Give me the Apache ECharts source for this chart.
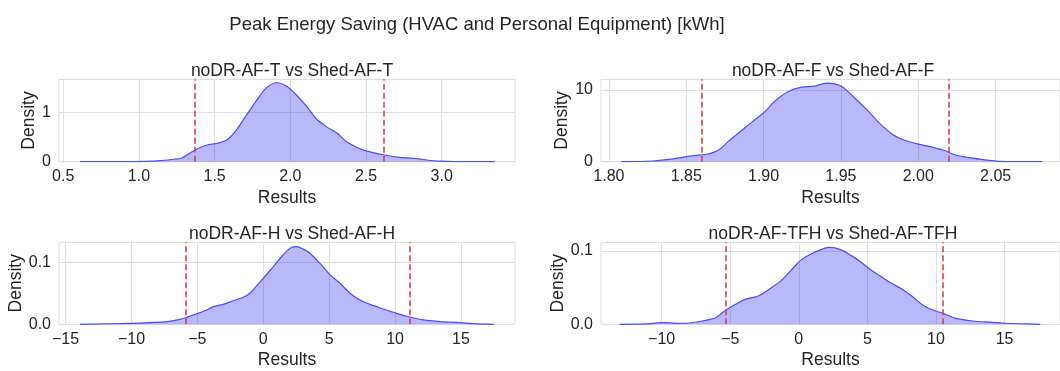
<!DOCTYPE html>
<html>
<head>
<meta charset="utf-8">
<script src="https://cdn.jsdelivr.net/npm/echarts@6/dist/echarts.min.js"></script>
<style>
html,body{margin:0;padding:0;background:#fff;}
#c{width:1060px;height:371px;}
</style>
</head>
<body>
<div id="c"></div>
<script>
// ---- Data ----
const suptitle = "Peak Energy Saving (HVAC and Personal Equipment) [kWh]";
const panelTitles = ["noDR-AF-T vs Shed-AF-T", "noDR-AF-F vs Shed-AF-F", "noDR-AF-H vs Shed-AF-H", "noDR-AF-TFH vs Shed-AF-TFH"];

const tX = [0.61, 0.9, 1.05, 1.14, 1.23, 1.28, 1.37, 1.45, 1.51, 1.58, 1.645, 1.71, 1.78, 1.84, 1.91, 1.976, 2.04, 2.11, 2.17, 2.24, 2.31, 2.37, 2.44, 2.50, 2.62, 2.72, 2.81, 2.90, 2.99, 3.1, 3.35];
const tY = [0, 0.001, 0.005, 0.02, 0.05, 0.07, 0.24, 0.34, 0.37, 0.44, 0.65, 0.95, 1.26, 1.50, 1.61, 1.54, 1.36, 1.12, 0.88, 0.71, 0.58, 0.41, 0.29, 0.22, 0.136, 0.09, 0.07, 0.035, 0.01, 0.003, 0];
const tTicks = [0.5, 1.0, 1.5, 2.0, 2.5, 3.0];
const tLines = [1.368, 2.618];

const fX = [1.808, 1.828, 1.839, 1.85, 1.858, 1.864, 1.871, 1.877, 1.886, 1.894, 1.901, 1.907, 1.916, 1.924, 1.933, 1.941, 1.95, 1.958, 1.967, 1.975, 1.984, 1.992, 2.001, 2.0095, 2.016, 2.024, 2.033, 2.044, 2.052, 2.065, 2.08];
const fY = [0, 0.1, 0.33, 0.7, 0.93, 1.07, 1.63, 2.8, 4.4, 5.8, 7.0, 8.4, 9.8, 10.37, 10.56, 10.98, 10.56, 9.07, 7.2, 5.35, 3.72, 2.93, 2.42, 2.0, 1.63, 0.93, 0.56, 0.23, 0.05, 0.01, 0];
const fTicks = [1.80, 1.85, 1.90, 1.95, 2.00, 2.05];
const fLines = [1.864, 2.0163];

const hX = [-13.9, -9.87, -8.6, -7.34, -6.32, -5.87, -5.06, -4.3, -3.79, -3.04, -2.28, -1.52, -1.01, -0.51, 0, 0.76, 1.52, 2.15, 2.53, 3.04, 3.54, 4.3, 5.06, 5.82, 6.58, 7.34, 8.1, 9.1, 10.12, 11.13, 12.14, 13.4, 14.93, 15.9, 17.5];
const hY = [0, 0.0016, 0.0027, 0.0043, 0.008, 0.0108, 0.0167, 0.023, 0.0285, 0.032, 0.038, 0.0435, 0.05, 0.062, 0.074, 0.093, 0.112, 0.124, 0.125, 0.121, 0.1145, 0.098, 0.080, 0.066, 0.05, 0.039, 0.032, 0.0247, 0.0177, 0.0118, 0.007, 0.0043, 0.0027, 0.001, 0];
const hTicks = [-15, -10, -5, 0, 5, 10, 15];
const hLines = [-5.87, 11.13];

const aX = [-13.05, -11.1, -10.05, -8.97, -8.0, -7.04, -6.08, -5.31, -4.64, -3.92, -2.96, -2.24, -1.27, -0.31, 0.17, 0.89, 1.61, 2.21, 3.05, 3.77, 4.5, 5.2, 5.94, 6.66, 7.62, 8.34, 9.06, 9.78, 10.5, 11.47, 12.67, 14.1, 15.07, 16.75, 17.6];
const aY = [0, 0.0005, 0.0023, 0.0014, 0.0018, 0.0045, 0.009, 0.0195, 0.027, 0.034, 0.0386, 0.047, 0.06, 0.079, 0.088, 0.096, 0.102, 0.105, 0.102, 0.0945, 0.0855, 0.075, 0.066, 0.057, 0.047, 0.037, 0.026, 0.0195, 0.015, 0.008, 0.0045, 0.0027, 0.0014, 0.0005, 0];
const aTicks = [-10, -5, 0, 5, 10, 15];
const aLines = [-5.31, 10.5];

// ---- Layout / styles ----
const FONT = "'Liberation Sans', Arial, sans-serif";
const TXT = "#262626";
const GRIDC = "#dedee3";

const panels = [
  {xs: tX, ys: tY, ticks: tTicks, lines: tLines, grid: {left: 59, right: 545, top: 79.3, bottom: 209.3},
   xmin: 0.472, xmax: 3.484, xdec: 1, ymax: 1.68, yint: 1, ydec: 0, nameGap: 19, title: [287, 57]},
  {xs: fX, ys: fY, ticks: fTicks, lines: fLines, grid: {left: 601, right: -5, top: 79.3, bottom: 209.3},
   xmin: 1.7949, xmax: 2.0916, xdec: 2, ymax: 11.5, yint: 10, ydec: 0, nameGap: 30, title: [828, 57]},
  {xs: hX, ys: hY, ticks: hTicks, lines: hLines, grid: {left: 59, right: 545, top: 242.3, bottom: 46.7},
   xmin: -15.5, xmax: 19.1, xdec: 0, ymax: 0.132, yint: 0.1, ydec: 1, nameGap: 34, title: [287, 220]},
  {xs: aX, ys: aY, ticks: aTicks, lines: aLines, grid: {left: 601, right: -5, top: 242.3, bottom: 46.7},
   xmin: -14.42, xmax: 19.04, xdec: 0, ymax: 0.112, yint: 0.1, ydec: 1, nameGap: 31, title: [828, 220]}
];

const option = {
  backgroundColor: "#fff",
  animation: false,
  title: [{text: suptitle, left: 472, top: 10, textAlign: "center",
           textStyle: {fontFamily: FONT, fontSize: 18.5, fontWeight: "normal", color: TXT}}]
    .concat(panels.map((p, i) => ({
      text: panelTitles[i], left: p.title[0], top: p.title[1], textAlign: "center",
      textStyle: {fontFamily: FONT, fontSize: 17.5, fontWeight: "normal", color: TXT}}))),
  grid: panels.map(p => Object.assign({show: true, borderColor: GRIDC, borderWidth: 1, containLabel: false}, p.grid)),
  xAxis: panels.map((p, i) => ({
    type: "value", gridIndex: i, min: p.xmin, max: p.xmax,
    name: "Results", nameLocation: "middle", nameGap: 27,
    nameTextStyle: {fontFamily: FONT, fontSize: 17.5, color: TXT},
    axisLine: {show: false},
    axisTick: {show: false, customValues: p.ticks},
    axisLabel: {fontFamily: FONT, fontSize: 16, color: TXT, margin: 7,
      customValues: p.ticks,
      formatter: v => v.toFixed(p.xdec).replace("-", "\u2212")},
    splitLine: {show: true, lineStyle: {color: GRIDC, width: 1}}
  })),
  yAxis: panels.map((p, i) => ({
    type: "value", gridIndex: i, min: 0, max: p.ymax, interval: p.yint,
    name: "Density", nameLocation: "middle", nameGap: p.nameGap, nameRotate: 90,
    nameTextStyle: {fontFamily: FONT, fontSize: 17.5, color: TXT},
    axisLine: {show: false}, axisTick: {show: false},
    axisLabel: {fontFamily: FONT, fontSize: 16, color: TXT, margin: 8, showMaxLabel: false,
      formatter: v => v.toFixed(p.ydec)},
    splitLine: {show: true, lineStyle: {color: GRIDC, width: 1}}
  })),
  series: panels.map((p, i) => ({
    type: "line", xAxisIndex: i, yAxisIndex: i, smooth: 0.3, symbol: "none",
    data: p.xs.map((x, k) => [x, p.ys[k]]),
    lineStyle: {color: "#4b4bff", width: 1.2},
    areaStyle: {color: "rgba(30,30,240,0.31)", opacity: 1},
    markLine: {silent: true, symbol: "none", label: {show: false},
      lineStyle: {color: "#d9363e", type: [6, 3], width: 1.5},
      data: p.lines.map(v => ({xAxis: v}))}
  }))
};

const chart = echarts.init(document.getElementById("c"), null, {renderer: "canvas"});
chart.setOption(option);
</script>
</body>
</html>
